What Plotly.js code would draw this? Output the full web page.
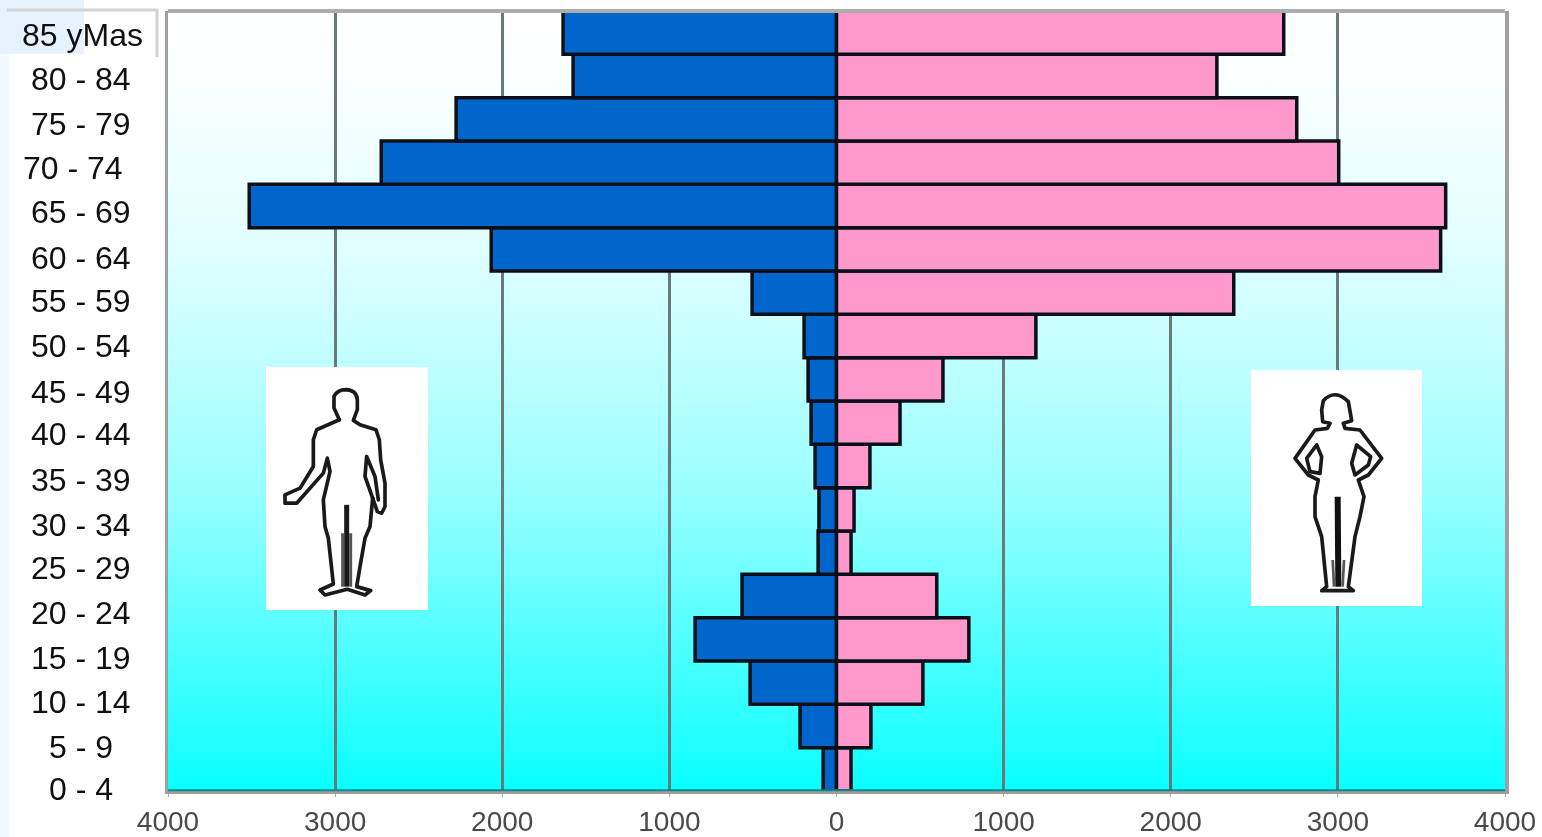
<!DOCTYPE html>
<html>
<head>
<meta charset="utf-8">
<script src="https://cdn.plot.ly/plotly-3.0.1.min.js"></script>
<style>html,body{margin:0;padding:0;background:#fff;overflow:hidden}#chart{width:1542px;height:837px;filter:blur(0.6px)}</style>
</head>
<body>
<div id="chart"></div>
<script>
// Age groups, bottom to top
var ageGroups = ["0 - 4","5 - 9","10 - 14","15 - 19","20 - 24","25 - 29","30 - 34","35 - 39","40 - 44","45 - 49","50 - 54","55 - 59","60 - 64","65 - 69","70 - 74","75 - 79","80 - 84","85 yMas"];
var maleValues = [80,218,517,846,565,110,105,128,152,170,194,505,2066,3514,2724,2276,1576,1636];
var femaleValues = [87,206,517,792,600,87,105,200,380,637,1193,2377,3615,3645,3005,2754,2276,2676];
var xTickValues = [-4000,-3000,-2000,-1000,0,1000,2000,3000,4000];
var xTickLabels = ["4000","3000","2000","1000","0","1000","2000","3000","4000"];
// The reference's hand-placed age labels drift away from the bar centres
var labelDriftY = [-20,-21,-19,-19,-17,-15,-16,-14,-11,-13,-10,-8,-9,-6,-5,-5,-3,-2];
var labelDriftX = [0,0,0,0,0,0,0,0,0,0,0,0,0,0,-8,0,0,1];

var W = 1542, H = 837, L = 168, R = 1505, T = 11, B = 791;
function px(x){ return (x - L) / (R - L); }
function py(y){ return (B - y) / (B - T); }
function uri(svg){ return 'data:image/svg+xml;base64,' + btoa(svg); }

var gradientSvg = '<svg xmlns="http://www.w3.org/2000/svg" width="100" height="780" preserveAspectRatio="none"><defs><linearGradient id="g" x1="0" y1="0" x2="0" y2="1">' +
  '<stop offset="0" stop-color="#ffffff"/><stop offset="0.08" stop-color="#fbffff"/><stop offset="0.3" stop-color="#e2ffff"/>' +
  '<stop offset="0.45" stop-color="#c0ffff"/><stop offset="0.62" stop-color="#98ffff"/><stop offset="0.78" stop-color="#5cffff"/>' +
  '<stop offset="0.9" stop-color="#30ffff"/><stop offset="1" stop-color="#08ffff"/></linearGradient></defs>' +
  '<rect width="100" height="780" fill="url(#g)"/></svg>';

var stroke = 'fill="none" stroke="#1a1a1a" stroke-width="11" stroke-linejoin="round" stroke-linecap="round"';
var manSvg = '<svg xmlns="http://www.w3.org/2000/svg" width="486" height="728" viewBox="48 22 486 728"><rect x="48" y="22" width="486" height="728" fill="#fff"/>' +
  '<path ' + stroke + ' d="M268,180 L252,145 L252,110 Q262,90 288,90 Q320,92 322,120 L322,150 L310,182 L330,195 L378,210 L388,240 L392,300 L405,370 L405,440 L395,460 L382,455 L368,415"/>' +
  '<path ' + stroke + ' d="M368,415 L345,350 L350,290 L375,350 L385,420"/>' +
  '<path ' + stroke + ' d="M368,415 L360,500 L345,535 L330,620 L320,680 L362,692 L345,705 L292,688 L225,705 L210,690 L250,672 L235,535 L225,500 L220,420 L240,335 L232,295 L220,340 L140,430 L105,430 L105,405 L150,385 L190,320 L190,240 L200,210 L268,180"/>' +
  '<path fill="none" stroke="#1a1a1a" stroke-width="15" d="M290,435 L290,680"/><path fill="none" stroke="#555" stroke-width="9" d="M278,520 L278,680 M302,520 L302,680"/></svg>';
var womanSvg = '<svg xmlns="http://www.w3.org/2000/svg" width="513" height="708" viewBox="33 30 513 708"><rect x="33" y="30" width="513" height="708" fill="#fff"/>' +
  '<path ' + stroke + ' d="M248,185 L245,150 L250,122 Q285,85 325,125 L335,182 L310,190 L315,205 L360,210 L425,295 L385,345 L355,360 L372,410 L360,470 L345,530 L325,680 L340,692 L245,692 L260,680 L245,530 L225,470 L225,410 L235,360 L205,345 L165,295 L225,210 L262,205 L270,190 L248,185 Z"/>' +
  '<path ' + stroke + ' d="M230,255 L200,295 L210,335 L240,340 L245,290 Z M350,255 L335,310 L345,345 L385,315 L392,290 Z"/>' +
  '<path fill="none" stroke="#111" stroke-width="18" d="M293,410 L295,680"/><path fill="none" stroke="#555" stroke-width="8" d="M278,600 L282,680 M312,600 L308,680"/></svg>';

var barOutline = {color:'#0a0f18', width:3.5};
var traces = [
  {type:'bar', orientation:'h', name:'Hombres', y:ageGroups, x:maleValues.map(function(v){return -v;}), marker:{color:'#0066cc', line:barOutline}, hoverinfo:'skip'},
  {type:'bar', orientation:'h', name:'Mujeres', y:ageGroups, x:femaleValues, marker:{color:'#ff99cc', line:barOutline}, hoverinfo:'skip'}
];

var annotations = ageGroups.map(function(label, i){
  return {xref:'paper', yref:'y', x:px(81), y:label, text:label, showarrow:false, xanchor:'center', yanchor:'middle',
    xshift:labelDriftX[i], yshift:labelDriftY[i],
    font:{family:'"Liberation Sans", Arial, sans-serif', size:32, color:'#101010'}};
});

var layout = {
  width:W, height:H, showlegend:false, autosize:false,
  paper_bgcolor:'#ffffff', plot_bgcolor:'rgba(0,0,0,0)',
  margin:{l:L, r:W-R, t:T, b:H-B, pad:0},
  barmode:'relative', bargap:0,
  xaxis:{range:[-4000,4000], tickmode:'array', tickvals:xTickValues, ticktext:xTickLabels, showgrid:true, gridcolor:'#6a7a7a', gridwidth:3,
    zeroline:false, showline:true, linecolor:'#a89a98', linewidth:3, ticks:'outside', ticklen:3, tickwidth:1, tickcolor:'#aaa',
    tickfont:{family:'"Liberation Sans", Arial, sans-serif', size:28, color:'#4a4a4a'}, fixedrange:true},
  yaxis:{type:'category', categoryorder:'array', categoryarray:ageGroups, range:[-0.5,17.5], autorange:false, showticklabels:false, ticks:'', showgrid:false, zeroline:false,
    showline:true, mirror:true, linecolor:'#a0a0a0', linewidth:3.5, fixedrange:true},
  annotations:annotations,
  images:[
    {source:uri(gradientSvg), xref:'paper', yref:'paper', x:0, y:1, sizex:1, sizey:1, sizing:'stretch', layer:'below'},
    {source:uri(manSvg), xref:'paper', yref:'paper', x:px(266), y:py(367), sizex:px(428)-px(266), sizey:py(367)-py(610), sizing:'stretch', layer:'above', xanchor:'left', yanchor:'top'},
    {source:uri(womanSvg), xref:'paper', yref:'paper', x:px(1251), y:py(370), sizex:px(1422)-px(1251), sizey:py(370)-py(606), sizing:'stretch', layer:'above', xanchor:'left', yanchor:'top'}
  ],
  shapes:[
    {type:'rect', xref:'paper', yref:'paper', x0:px(0), x1:px(9), y0:py(837), y1:py(0), fillcolor:'#f2f8ff', line:{width:0}, layer:'below'},
    {type:'rect', xref:'paper', yref:'paper', x0:px(0), x1:px(84), y0:py(54), y1:py(0), fillcolor:'#e6f2ff', line:{width:0}, layer:'below'},
    {type:'path', xref:'paper', yref:'paper', path:'M'+px(7)+','+py(10)+' L'+px(157)+','+py(10)+' L'+px(157)+','+py(57), line:{color:'#d2d2d2', width:3}, layer:'below'},
    {type:'line', xref:'paper', yref:'paper', x0:0, x1:1, y0:1, y1:1, line:{color:'#adadad', width:4}, layer:'above'},
    {type:'line', xref:'paper', yref:'paper', x0:0, x1:1, y0:0.001, y1:0.001, line:{color:'#008f8f', width:2}, layer:'above'}
  ]
};
Plotly.newPlot('chart', traces, layout, {displayModeBar:false, staticPlot:true});
</script>
</body>
</html>
